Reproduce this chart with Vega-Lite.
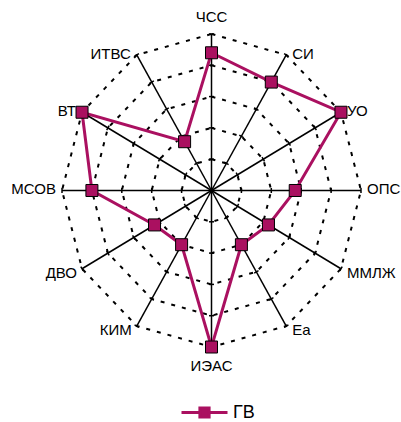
{
  "$schema": "https://vega.github.io/schema/vega-lite/v6.json",
  "width": 401,
  "height": 422,
  "padding": 0,
  "autosize": "none",
  "config": {"view": {"stroke": null}, "font": "Liberation Sans"},
  "datasets": {
    "scores": [
      {"axis": "ЧСС", "idx": 0, "value": 4.4, "series": "ГВ"},
      {"axis": "СИ", "idx": 1, "value": 4.0, "series": "ГВ"},
      {"axis": "УО", "idx": 2, "value": 5.0, "series": "ГВ"},
      {"axis": "ОПС", "idx": 3, "value": 2.8, "series": "ГВ"},
      {"axis": "ММЛЖ", "idx": 4, "value": 2.2, "series": "ГВ"},
      {"axis": "Еа", "idx": 5, "value": 2.0, "series": "ГВ"},
      {"axis": "ИЭАС", "idx": 6, "value": 5.0, "series": "ГВ"},
      {"axis": "КИМ", "idx": 7, "value": 2.0, "series": "ГВ"},
      {"axis": "ДВО", "idx": 8, "value": 2.2, "series": "ГВ"},
      {"axis": "МСОВ", "idx": 9, "value": 4.0, "series": "ГВ"},
      {"axis": "ВТ", "idx": 10, "value": 5.0, "series": "ГВ"},
      {"axis": "ИТВС", "idx": 11, "value": 1.8, "series": "ГВ"}
    ],
    "rings": [
      {"level": 1, "idx": [0, 1, 2, 3, 4, 5, 6, 7, 8, 9, 10, 11]},
      {"level": 2, "idx": [0, 1, 2, 3, 4, 5, 6, 7, 8, 9, 10, 11]},
      {"level": 3, "idx": [0, 1, 2, 3, 4, 5, 6, 7, 8, 9, 10, 11]},
      {"level": 4, "idx": [0, 1, 2, 3, 4, 5, 6, 7, 8, 9, 10, 11]},
      {"level": 5, "idx": [0, 1, 2, 3, 4, 5, 6, 7, 8, 9, 10, 11]}
    ]
  },
  "layer": [
    {
      "data": {"name": "rings"},
      "transform": [
        {"flatten": ["idx"]},
        {"calculate": "PI/2 - datum.idx*PI/6", "as": "t"},
        {"calculate": "datum.level*cos(datum.t)", "as": "x"},
        {"calculate": "datum.level*sin(datum.t)", "as": "y"}
      ],
      "mark": {"type": "line", "interpolate": "linear-closed", "stroke": "black", "strokeWidth": 2, "strokeDash": [4, 7]},
      "encoding": {
        "x": {"field": "x", "type": "quantitative", "scale": {"domain": [-7.074, 6.338], "nice": false, "zero": false}, "axis": null},
        "y": {"field": "y", "type": "quantitative", "scale": {"domain": [-7.396, 6.086], "nice": false, "zero": false}, "axis": null},
        "detail": {"field": "level"},
        "order": {"field": "idx"}
      }
    },
    {
      "data": {"name": "rings"},
      "transform": [
        {"flatten": ["idx"]},
        {"calculate": "PI/2 - datum.idx*PI/6", "as": "t"},
        {"calculate": "datum.level*cos(datum.t)", "as": "x"},
        {"calculate": "datum.level*sin(datum.t)", "as": "y"},
        {"calculate": "datum.idx*30", "as": "ang"}
      ],
      "mark": {"type": "point", "shape": "M-1,0L1,0", "size": 25, "filled": false, "stroke": "black", "strokeWidth": 1.5, "opacity": 1},
      "encoding": {
        "x": {"field": "x", "type": "quantitative", "scale": {"domain": [-7.074, 6.338], "nice": false, "zero": false}, "axis": null},
        "y": {"field": "y", "type": "quantitative", "scale": {"domain": [-7.396, 6.086], "nice": false, "zero": false}, "axis": null},
        "angle": {"field": "ang", "type": "quantitative", "scale": null}
      }
    },
    {
      "data": {"name": "scores"},
      "transform": [
        {"calculate": "PI/2 - datum.idx*PI/6", "as": "t"},
        {"calculate": "5*cos(datum.t)", "as": "ex"},
        {"calculate": "5*sin(datum.t)", "as": "ey"}
      ],
      "mark": {"type": "rule", "stroke": "black", "strokeWidth": 1.5},
      "encoding": {
        "x": {"field": "ex", "type": "quantitative", "scale": {"domain": [-7.074, 6.338], "nice": false, "zero": false}, "axis": null},
        "y": {"field": "ey", "type": "quantitative", "scale": {"domain": [-7.396, 6.086], "nice": false, "zero": false}, "axis": null},
        "x2": {"datum": 0},
        "y2": {"datum": 0}
      }
    },
    {
      "data": {"name": "scores"},
      "transform": [
        {"calculate": "PI/2 - datum.idx*PI/6", "as": "t"},
        {"calculate": "datum.value*cos(datum.t)", "as": "x"},
        {"calculate": "datum.value*sin(datum.t)", "as": "y"}
      ],
      "mark": {"type": "line", "interpolate": "linear-closed", "strokeWidth": 3},
      "encoding": {
        "x": {"field": "x", "type": "quantitative", "scale": {"domain": [-7.074, 6.338], "nice": false, "zero": false}, "axis": null},
        "y": {"field": "y", "type": "quantitative", "scale": {"domain": [-7.396, 6.086], "nice": false, "zero": false}, "axis": null},
        "order": {"field": "idx"},
        "stroke": {
          "field": "series",
          "type": "nominal",
          "scale": {"range": ["#AA1060"]},
          "legend": {
            "title": null,
            "orient": "none",
            "legendX": 180,
            "legendY": 388,
            "padding": 0,
            "symbolType": "M-1,0H-0.2M0.2,0H1M-0.2,-0.2H0.2V0.2H-0.2Z",
            "symbolSize": 2116,
            "symbolStrokeWidth": 3,
            "labelFontSize": 18,
            "labelFont": "Liberation Sans",
            "labelColor": "black",
            "labelOffset": 4,
            "encode": {"symbols": {"update": {"fill": {"value": "#AA1060"}, "stroke": {"value": "#AA1060"}, "strokeWidth": {"value": 3}, "opacity": {"value": 1}}}}
          }
        }
      }
    },
    {
      "data": {"name": "scores"},
      "transform": [
        {"calculate": "PI/2 - datum.idx*PI/6", "as": "t"},
        {"calculate": "datum.value*cos(datum.t)", "as": "x"},
        {"calculate": "datum.value*sin(datum.t)", "as": "y"}
      ],
      "mark": {"type": "point", "shape": "square", "filled": true, "fill": "#AA1060", "stroke": "black", "strokeWidth": 1, "size": 144, "opacity": 1},
      "encoding": {
        "x": {"field": "x", "type": "quantitative", "scale": {"domain": [-7.074, 6.338], "nice": false, "zero": false}, "axis": null},
        "y": {"field": "y", "type": "quantitative", "scale": {"domain": [-7.396, 6.086], "nice": false, "zero": false}, "axis": null}
      }
    },
    {
      "data": {"name": "scores"},
      "transform": [
        {"filter": "indexof([1,2,3], datum.idx) >= 0"},
        {"calculate": "PI/2 - datum.idx*PI/6", "as": "t"},
        {"calculate": "5*cos(datum.t)", "as": "ex"},
        {"calculate": "5*sin(datum.t)", "as": "ey"}
      ],
      "mark": {"type": "text", "align": "left", "baseline": "middle", "dx": 6, "dy": -1, "fontSize": 15, "color": "black"},
      "encoding": {
        "x": {"field": "ex", "type": "quantitative", "scale": {"domain": [-7.074, 6.338], "nice": false, "zero": false}, "axis": null},
        "y": {"field": "ey", "type": "quantitative", "scale": {"domain": [-7.396, 6.086], "nice": false, "zero": false}, "axis": null},
        "text": {"field": "axis"}
      }
    },
    {
      "data": {"name": "scores"},
      "transform": [
        {"filter": "indexof([4,5], datum.idx) >= 0"},
        {"calculate": "PI/2 - datum.idx*PI/6", "as": "t"},
        {"calculate": "5*cos(datum.t)", "as": "ex"},
        {"calculate": "5*sin(datum.t)", "as": "ey"}
      ],
      "mark": {"type": "text", "align": "left", "baseline": "middle", "dx": 6, "dy": 4, "fontSize": 15, "color": "black"},
      "encoding": {
        "x": {"field": "ex", "type": "quantitative", "scale": {"domain": [-7.074, 6.338], "nice": false, "zero": false}, "axis": null},
        "y": {"field": "ey", "type": "quantitative", "scale": {"domain": [-7.396, 6.086], "nice": false, "zero": false}, "axis": null},
        "text": {"field": "axis"}
      }
    },
    {
      "data": {"name": "scores"},
      "transform": [
        {"filter": "indexof([7,8], datum.idx) >= 0"},
        {"calculate": "PI/2 - datum.idx*PI/6", "as": "t"},
        {"calculate": "5*cos(datum.t)", "as": "ex"},
        {"calculate": "5*sin(datum.t)", "as": "ey"}
      ],
      "mark": {"type": "text", "align": "right", "baseline": "middle", "dx": -5, "dy": 4, "fontSize": 15, "color": "black"},
      "encoding": {
        "x": {"field": "ex", "type": "quantitative", "scale": {"domain": [-7.074, 6.338], "nice": false, "zero": false}, "axis": null},
        "y": {"field": "ey", "type": "quantitative", "scale": {"domain": [-7.396, 6.086], "nice": false, "zero": false}, "axis": null},
        "text": {"field": "axis"}
      }
    },
    {
      "data": {"name": "scores"},
      "transform": [
        {"filter": "indexof([9,10,11], datum.idx) >= 0"},
        {"calculate": "PI/2 - datum.idx*PI/6", "as": "t"},
        {"calculate": "5*cos(datum.t)", "as": "ex"},
        {"calculate": "5*sin(datum.t)", "as": "ey"}
      ],
      "mark": {"type": "text", "align": "right", "baseline": "middle", "dx": -6, "dy": -1, "fontSize": 15, "color": "black"},
      "encoding": {
        "x": {"field": "ex", "type": "quantitative", "scale": {"domain": [-7.074, 6.338], "nice": false, "zero": false}, "axis": null},
        "y": {"field": "ey", "type": "quantitative", "scale": {"domain": [-7.396, 6.086], "nice": false, "zero": false}, "axis": null},
        "text": {"field": "axis"}
      }
    },
    {
      "data": {"name": "scores"},
      "transform": [
        {"filter": "datum.idx == 0"},
        {"calculate": "PI/2 - datum.idx*PI/6", "as": "t"},
        {"calculate": "5*cos(datum.t)", "as": "ex"},
        {"calculate": "5*sin(datum.t)", "as": "ey"}
      ],
      "mark": {"type": "text", "align": "center", "baseline": "middle", "dy": -17, "fontSize": 15, "color": "black"},
      "encoding": {
        "x": {"field": "ex", "type": "quantitative", "scale": {"domain": [-7.074, 6.338], "nice": false, "zero": false}, "axis": null},
        "y": {"field": "ey", "type": "quantitative", "scale": {"domain": [-7.396, 6.086], "nice": false, "zero": false}, "axis": null},
        "text": {"field": "axis"}
      }
    },
    {
      "data": {"name": "scores"},
      "transform": [
        {"filter": "datum.idx == 6"},
        {"calculate": "PI/2 - datum.idx*PI/6", "as": "t"},
        {"calculate": "5*cos(datum.t)", "as": "ex"},
        {"calculate": "5*sin(datum.t)", "as": "ey"}
      ],
      "mark": {"type": "text", "align": "center", "baseline": "middle", "dy": 19, "fontSize": 15, "color": "black"},
      "encoding": {
        "x": {"field": "ex", "type": "quantitative", "scale": {"domain": [-7.074, 6.338], "nice": false, "zero": false}, "axis": null},
        "y": {"field": "ey", "type": "quantitative", "scale": {"domain": [-7.396, 6.086], "nice": false, "zero": false}, "axis": null},
        "text": {"field": "axis"}
      }
    }
  ]
}
